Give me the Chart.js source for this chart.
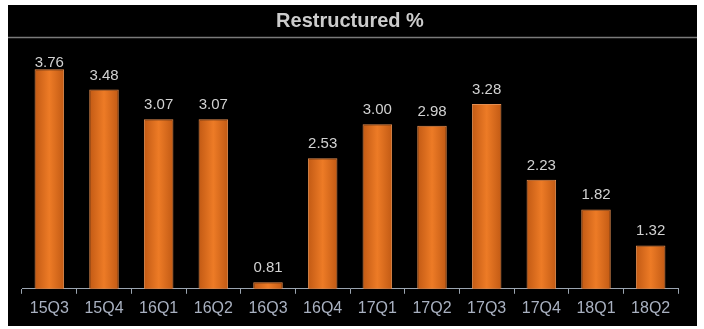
<!DOCTYPE html>
<html>
<head>
<meta charset="utf-8">
<script src="https://cdn.jsdelivr.net/npm/chart.js@4.4.1/dist/chart.umd.min.js"></script>
<style>
  html, body { margin: 0; padding: 0; background: #ffffff; }
  #wrap { width: 704px; height: 329px; }
</style>
</head>
<body>
<div id="wrap"><canvas id="restructuredChart" width="704" height="329"></canvas></div>
<script>
// Chart data
const quarters = ['15Q3', '15Q4', '16Q1', '16Q2', '16Q3', '16Q4', '17Q1', '17Q2', '17Q3', '17Q4', '18Q1', '18Q2'];
const restructuredPct = [3.76, 3.48, 3.07, 3.07, 0.81, 2.53, 3.00, 2.98, 3.28, 2.23, 1.82, 1.32];
const chartTitle = 'Restructured %';

const BAR_PCT = 0.54;

// Black panel behind the chart plus the rule under the title
const panelPlugin = {
  id: 'panel',
  beforeDraw(chart) {
    const c = chart.ctx;
    c.save();
    c.fillStyle = '#000000';
    c.fillRect(8, 5, 689, 321);
    c.strokeStyle = '#7a7a7a';
    c.lineWidth = 1.5;
    c.beginPath();
    c.moveTo(8, 37.5);
    c.lineTo(697, 37.5);
    c.stroke();
    c.restore();
  }
};

// Horizontal orange gradient, worked out from the x scale for each bar
function barGradient(context) {
  const chart = context.chart;
  const xScale = chart.scales.x;
  if (!xScale || !chart.chartArea) return '#e06a18';
  const center = xScale.getPixelForValue(context.dataIndex);
  const half = (xScale.width / quarters.length) * BAR_PCT / 2;
  const g = chart.ctx.createLinearGradient(center - half, 0, center + half, 0);
  g.addColorStop(0, '#c25a14');
  g.addColorStop(0.5, '#ed7b26');
  g.addColorStop(1, '#c25a14');
  return g;
}

// Value labels above the bars
const valueLabelPlugin = {
  id: 'valueLabels',
  afterDatasetsDraw(chart) {
    const c = chart.ctx;
    const top = chart.chartArea.top;
    c.save();
    c.fillStyle = '#d2d2d2';
    c.font = '15px "Liberation Sans", Arial, sans-serif';
    c.textAlign = 'center';
    c.textBaseline = 'alphabetic';
    chart.getDatasetMeta(0).data.forEach((bar, i) => {
      const y = Math.max(bar.y - 10, top + 15);
      c.fillText(restructuredPct[i].toFixed(2), bar.x, y);
    });
    c.restore();
  }
};

const ctx = document.getElementById('restructuredChart').getContext('2d');

new Chart(ctx, {
  type: 'bar',
  data: {
    labels: quarters,
    datasets: [
      {
        label: chartTitle,
        data: restructuredPct,
        backgroundColor: barGradient,
        borderColor: '#e38d50',
        borderWidth: 1,
        categoryPercentage: 1,
        barPercentage: BAR_PCT
      }
    ]
  },
  options: {
    responsive: false,
    animation: false,
    layout: {
      padding: { left: 22, right: 26, top: 0, bottom: 6 }
    },
    plugins: {
      legend: { display: false },
      tooltip: { enabled: false },
      title: {
        display: true,
        text: chartTitle,
        color: '#cccccc',
        font: { family: '"Liberation Sans", Arial, sans-serif', size: 20, weight: 'bold' },
        padding: { top: 9, bottom: 19 }
      }
    },
    scales: {
      y: {
        display: false,
        min: 0.72,
        max: 4.0
      },
      x: {
        grid: {
          offset: true,
          drawOnChartArea: false,
          drawTicks: true,
          tickLength: 5,
          color: '#9aa4b0'
        },
        border: {
          display: true,
          color: '#9aa4b0',
          width: 1
        },
        ticks: {
          color: '#a9b1c1',
          padding: 5,
          font: { family: '"Liberation Sans", Arial, sans-serif', size: 16 }
        }
      }
    }
  },
  plugins: [panelPlugin, valueLabelPlugin]
});
</script>
</body>
</html>
